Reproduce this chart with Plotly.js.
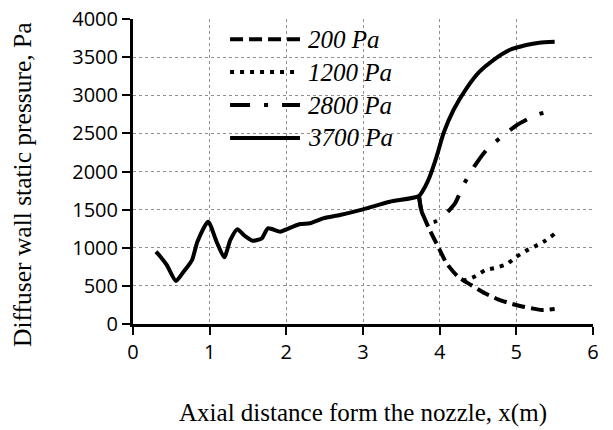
<!DOCTYPE html>
<html>
<head>
<meta charset="utf-8">
<script src="https://cdn.plot.ly/plotly-3.0.1.min.js"></script>
<style>html,body{margin:0;padding:0;background:#fff;}#chart{width:613px;height:430px;}</style>
</head>
<body>
<div id="chart"></div>
<script>
// Common upstream part (shared by all back pressures)
var xCommon = [0.30,0.35,0.44,0.56,0.66,0.77,0.84,0.98,1.09,1.19,1.27,1.36,1.46,1.56,1.68,1.76,1.92,2.00,2.18,2.31,2.48,2.70,3.00,3.35,3.73];
var pCommon = [948,892,774,564,686,839,1079,1342,1079,875,1102,1242,1154,1092,1124,1255,1210,1242,1311,1321,1386,1430,1504,1604,1679];

// Branches after the junction
var x200  = [3.73,3.76,3.87,3.98,4.09,4.24,4.41,4.59,4.76,4.92,5.05,5.20,5.33,5.50];
var p200  = [1679,1495,1233,1014,796,620,511,403,324,271,236,206,184,197];

var x1200 = [4.30,4.38,4.47,4.60,4.74,4.88,4.99,5.12,5.25,5.38,5.50];
var p1200 = [570,590,629,708,739,787,875,957,1023,1093,1185];

var x2800 = [3.73,3.77,3.85,3.93,4.02,4.20,4.31,4.45,4.61,4.80,5.01,5.26,5.50];
var p2800 = [1679,1460,1330,1340,1386,1583,1823,2063,2282,2449,2610,2741,2807];

var x3700 = [3.73,3.81,3.87,3.96,4.05,4.18,4.35,4.52,4.70,4.91,5.13,5.30,5.50];
var p3700 = [1679,1801,1932,2194,2501,2807,3091,3309,3462,3593,3659,3690,3702];

var seriesNames = ['200 Pa','1200 Pa','2800 Pa','3700 Pa'];
var seriesDash  = ['13px,6px','4px,6px','20px,14px,4px,14px','solid'];

var xTickVals = [0,1,2,3,4,5,6];
var yTickVals = [0,500,1000,1500,2000,2500,3000,3500,4000];

var branchX = [x200, x1200, x2800, x3700];
var branchP = [p200, p1200, p2800, p3700];

var traces = [];
for (var i = 0; i < 4; i++) {
  var xs = (i === 3) ? xCommon.concat(branchX[i].slice(1)) : branchX[i];
  var ys = (i === 3) ? pCommon.concat(branchP[i].slice(1)) : branchP[i];
  traces.push({
    x: xs, y: ys, type: 'scatter', mode: 'lines', name: seriesNames[i],
    line: {color: '#000', width: 4, dash: seriesDash[i], shape: 'spline', smoothing: 0.6},
    showlegend: false, hoverinfo: 'skip'
  });
}

// manual legend (line samples + labels) in paper coordinates
var shapes = [{
  type: 'rect', xref: 'paper', yref: 'paper', x0: 0.183, x1: 0.576, y0: 0.554, y1: 0.99,
  fillcolor: '#fff', line: {width: 0}, layer: 'below'
}];
var annotations = [];
var rowY = [0.934, 0.826, 0.718, 0.610];
for (var k = 0; k < 4; k++) {
  shapes.push({
    type: 'line', xref: 'paper', yref: 'paper', x0: 0.211, x1: 0.363, y0: rowY[k], y1: rowY[k],
    line: {color: '#000', width: 4, dash: seriesDash[k]}, layer: 'above'
  });
  annotations.push({
    xref: 'paper', yref: 'paper', x: 0.376, y: rowY[k], xanchor: 'left', yanchor: 'middle',
    text: '<i>' + seriesNames[k] + '</i>', showarrow: false,
    font: {family: 'Liberation Serif, serif', size: 25, color: '#000'}
  });
}
// y-axis title as a rotated text annotation
annotations.push({
  xref: 'paper', yref: 'paper', x: -0.239, y: 0.456, xanchor: 'center', yanchor: 'middle',
  textangle: -90, showarrow: false, text: 'Diffuser wall static pressure, Pa',
  font: {family: 'Liberation Serif, serif', size: 25.5, color: '#000'}
});

var layout = {
  width: 613, height: 430,
  margin: {l: 133, r: 20, t: 19, b: 106},
  paper_bgcolor: '#fff', plot_bgcolor: '#fff',
  showlegend: false,
  xaxis: {
    range: [0, 6], tickmode: 'array', tickvals: xTickVals,
    showline: true, linecolor: '#000', linewidth: 3,
    ticks: 'outside', ticklen: 8, tickwidth: 2, tickcolor: '#000',
    showgrid: true, gridcolor: '#909090', gridwidth: 1, griddash: 'dot',
    zeroline: false,
    tickfont: {family: 'Open Sans, sans-serif', size: 20, color: '#000'},
    title: {text: 'Axial distance form the nozzle, x(m)', standoff: 40,
            font: {family: 'Liberation Serif, serif', size: 25, color: '#000'}}
  },
  yaxis: {
    range: [0, 4000], tickmode: 'array', tickvals: yTickVals,
    showline: true, linecolor: '#000', linewidth: 3,
    ticks: 'outside', ticklen: 8, tickwidth: 2, tickcolor: '#000',
    showgrid: true, gridcolor: '#909090', gridwidth: 1, griddash: 'dot',
    zeroline: false,
    tickfont: {family: 'Open Sans, sans-serif', size: 20, color: '#000'}
  },
  shapes: shapes,
  annotations: annotations
};

Plotly.newPlot('chart', traces, layout, {staticPlot: true, displayModeBar: false});
</script>
</body>
</html>
